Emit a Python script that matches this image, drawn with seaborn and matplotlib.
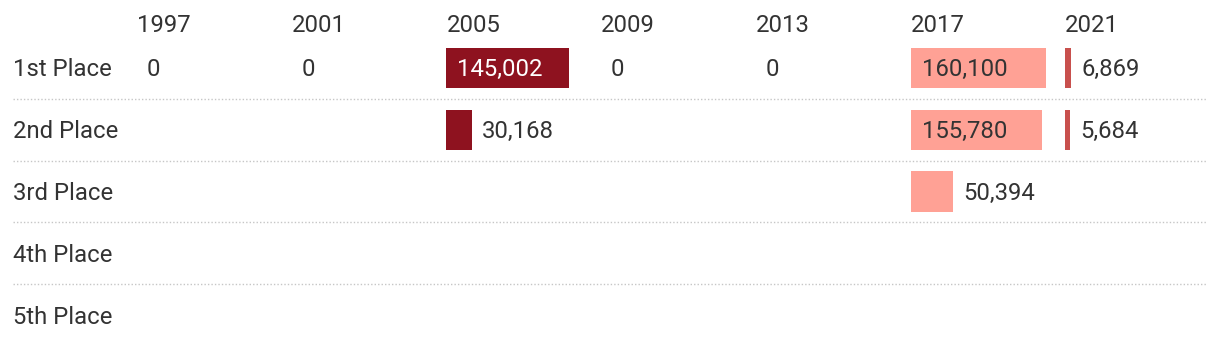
import numpy as np
import pandas as pd
import matplotlib
matplotlib.use("Agg")
import matplotlib.pyplot as plt
import matplotlib.transforms as mtransforms
import seaborn as sns

# ---- data ----
years = ["1997", "2001", "2005", "2009", "2013", "2017", "2021"]
places = ["1st Place", "2nd Place", "3rd Place", "4th Place", "5th Place"]
v1997 = [0, np.nan, np.nan, np.nan, np.nan]
v2001 = [0, np.nan, np.nan, np.nan, np.nan]
v2005 = [145002, 30168, np.nan, np.nan, np.nan]
v2009 = [0, np.nan, np.nan, np.nan, np.nan]
v2013 = [0, np.nan, np.nan, np.nan, np.nan]
v2017 = [160100, 155780, 50394, np.nan, np.nan]
v2021 = [6869, 5684, np.nan, np.nan, np.nan]
series = [v1997, v2001, v2005, v2009, v2013, v2017, v2021]
bar_colors = ["#8E121F", "#8E121F", "#8E121F", "#8E121F", "#8E121F", "#FFA195", "#C8504D"]
inside_text_colors = ["white", "white", "white", "white", "white", "#333333", "#333333"]

rows = []
for y, vals in zip(years, series):
    for p, v in zip(places, vals):
        rows.append({"year": y, "place": p, "value": v})
df = pd.DataFrame(rows)

plt.rcParams["font.family"] = ["Roboto", "DejaVu Sans"]
TXT = "#333333"
FS = 17.2
DY = -2 * 0.72  # shift text down ~2px

W, H = 1220, 346
fig = plt.figure(figsize=(W / 100, H / 100), dpi=100)

axes_top = 37
ax_h = (H - axes_top) / H
col_w = 154.7
left0 = 137
units_per_px = 1182.0
ylim = (len(places) - 0.5, -0.5)

# background: separators + row labels
bg = fig.add_axes([13 / W, 0, (1207 - 13) / W, ax_h], zorder=0)
bg.set_xlim(0, 1)
bg.set_ylim(*ylim)
for k in range(len(places) - 1):
    bg.axhline(k + 0.5, color="#c6c6c6", lw=1.0, ls=(0, (1, 1.5)))
for i, p in enumerate(places):
    bg.annotate(p, xy=(0, i), xytext=(0, DY), textcoords="offset points",
                va="center", ha="left", fontsize=FS, color=TXT)
bg.axis("off")

for c, y in enumerate(years):
    ax = fig.add_axes([(left0 + c * col_w) / W, 0, col_w / W, ax_h], zorder=1)
    ax.patch.set_alpha(0)
    sub = df[df["year"] == y]
    sns.barplot(data=sub, x="value", y="place", order=places, orient="h",
                color=bar_colors[c], saturation=1, width=0.648,
                errorbar=None, ax=ax)
    ax.set_xlim(0, col_w * units_per_px)
    ax.set_ylim(*ylim)
    ax.axis("off")
    ax.annotate(y, xy=(0, 1 + 14 / (H - axes_top)), xycoords="axes fraction",
                xytext=(0, DY), textcoords="offset points",
                va="center", ha="left", fontsize=FS, color=TXT)
    for i, v in enumerate(series[c]):
        if np.isnan(v):
            continue
        px = v / units_per_px
        if v == 0:
            ax.annotate("0", xy=(0, i), xytext=(10 * 0.72, DY),
                        textcoords="offset points", va="center", ha="left",
                        fontsize=FS, color=TXT)
        elif px > 100:
            ax.annotate(f"{int(v):,}", xy=(0, i), xytext=(11 * 0.72, DY),
                        textcoords="offset points", va="center", ha="left",
                        fontsize=FS, color=inside_text_colors[c])
        else:
            ax.annotate(f"{int(v):,}", xy=(v, i), xytext=(10 * 0.72, DY),
                        textcoords="offset points", va="center", ha="left",
                        fontsize=FS, color=TXT)

fig.savefig("out.png", dpi=100)
